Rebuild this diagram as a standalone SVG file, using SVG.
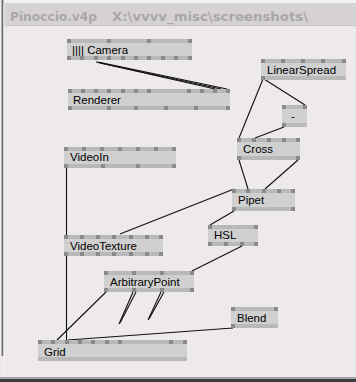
<svg xmlns="http://www.w3.org/2000/svg" width="356" height="382" viewBox="0 0 356 382">
<defs>
<style>
.bg{fill:#ede9ec}
.body{fill:#d0d0d0}
.strip{fill:#b9b9b9}
.pin{fill:#8a8a8a}
.lbl{font-family:"Liberation Sans",Arial,sans-serif;font-size:11.5px;fill:#000}
.title{font-family:"DejaVu Sans",Verdana,sans-serif;font-weight:bold;font-size:12px;fill:#a8a8a8}
.wire{stroke:#111;stroke-width:1.1;fill:none}
</style>
</defs>
<rect class="bg" x="0" y="0" width="356" height="382"/>
<rect x="0" y="0" width="356" height="3" fill="#f2f2f2"/>
<rect x="0" y="0" width="2" height="356" fill="#f2f2f2"/>
<rect x="1.5" y="0" width="2" height="356" fill="#6e6e6e"/>
<rect x="3.5" y="3" width="1" height="374" fill="#f6f6f6"/>
<rect x="4.5" y="3" width="352" height="22" fill="#d6d2d4"/>
<rect x="4.5" y="25" width="352" height="1" fill="#c8c4c6"/>
<text class="title" x="10" y="21" textLength="87" lengthAdjust="spacingAndGlyphs">Pinoccio.v4p</text>
<text class="title" x="112" y="21" textLength="196" lengthAdjust="spacingAndGlyphs">X:\vvvv_misc\screenshots\</text>
<rect x="0" y="377" width="356" height="2" fill="#a4a4a4"/>
<rect x="0" y="379" width="356" height="3" fill="#3c3c3c"/>

<g id="connectors">
<line class="wire" x1="96" y1="62" x2="215" y2="89"/>
<line class="wire" x1="98" y1="62" x2="227" y2="89"/>
<line class="wire" x1="100" y1="63" x2="221" y2="89"/>
<line class="wire" x1="263" y1="79" x2="239" y2="138"/>
<line class="wire" x1="264" y1="79" x2="305" y2="105"/>
<line class="wire" x1="284" y1="127" x2="255" y2="138"/>
<line class="wire" x1="239" y1="160" x2="248" y2="189"/>
<line class="wire" x1="298" y1="160" x2="265" y2="189"/>
<line class="wire" x1="234" y1="189" x2="120" y2="234"/>
<line class="wire" x1="234" y1="211" x2="210" y2="225"/>
<line class="wire" x1="242" y1="246" x2="192" y2="271"/>
<line class="wire" x1="66.5" y1="167" x2="66.5" y2="235"/>
<line class="wire" x1="66.5" y1="256" x2="66.5" y2="340"/>
<line class="wire" x1="106" y1="292" x2="57" y2="340"/>
<line class="wire" x1="133" y1="292" x2="119" y2="324"/>
<line class="wire" x1="136" y1="292" x2="120" y2="323"/>
<line class="wire" x1="161" y1="292" x2="148" y2="320"/>
<line class="wire" x1="164" y1="292" x2="149" y2="319"/>
<line class="wire" x1="233" y1="328" x2="68" y2="340"/>
</g>

<g id="camera">
<rect class="body" x="67" y="39" width="125" height="21"/>
<rect class="strip" x="67" y="39" width="125" height="4"/>
<rect class="strip" x="67" y="56" width="125" height="4"/>
<g class="pin"><rect x="67" y="39" width="4" height="4"/><rect x="107" y="39" width="4" height="4"/><rect x="147" y="39" width="4" height="4"/><rect x="188" y="39" width="4" height="4"/>
<rect x="67" y="56" width="4" height="4"/><rect x="80" y="56" width="4" height="4"/><rect x="94" y="56" width="4" height="4"/><rect x="107" y="56" width="4" height="4"/><rect x="121" y="56" width="4" height="4"/><rect x="134" y="56" width="4" height="4"/><rect x="147" y="56" width="4" height="4"/><rect x="161" y="56" width="4" height="4"/><rect x="174" y="56" width="4" height="4"/><rect x="188" y="56" width="4" height="4"/></g>
<text class="lbl" x="72" y="54">|||| Camera</text>
</g>

<g id="renderer">
<rect class="body" x="68" y="89" width="162" height="21"/>
<rect class="strip" x="68" y="89" width="162" height="4"/>
<rect class="strip" x="68" y="106" width="162" height="4"/>
<g class="pin"><rect x="68" y="89" width="4" height="4"/><rect x="81" y="89" width="4" height="4"/><rect x="94" y="89" width="4" height="4"/><rect x="107" y="89" width="4" height="4"/><rect x="121" y="89" width="4" height="4"/><rect x="134" y="89" width="4" height="4"/><rect x="147" y="89" width="4" height="4"/><rect x="187" y="89" width="4" height="4"/><rect x="200" y="89" width="4" height="4"/><rect x="213" y="89" width="4" height="4"/><rect x="226" y="89" width="4" height="4"/>
<rect x="68" y="106" width="4" height="4"/><rect x="107" y="106" width="4" height="4"/><rect x="134" y="106" width="4" height="4"/><rect x="164" y="106" width="4" height="4"/><rect x="194" y="106" width="4" height="4"/><rect x="226" y="106" width="4" height="4"/></g>
<text class="lbl" x="73" y="104">Renderer</text>
</g>

<g id="linearspread">
<rect class="body" x="261" y="59" width="85" height="21"/>
<rect class="strip" x="261" y="59" width="85" height="4"/>
<rect class="strip" x="261" y="76" width="85" height="4"/>
<g class="pin"><rect x="261" y="59" width="4" height="4"/><rect x="281" y="59" width="4" height="4"/><rect x="301" y="59" width="4" height="4"/><rect x="321" y="59" width="4" height="4"/><rect x="342" y="59" width="4" height="4"/>
<rect x="261" y="76" width="4" height="4"/></g>
<text class="lbl" x="267" y="74">LinearSpread</text>
</g>

<g id="minus">
<rect class="body" x="282" y="105" width="25" height="22"/>
<rect class="strip" x="282" y="105" width="25" height="4"/>
<rect class="strip" x="282" y="123" width="25" height="4"/>
<g class="pin"><rect x="282" y="105" width="4" height="4"/><rect x="303" y="105" width="4" height="4"/>
<rect x="282" y="123" width="4" height="4"/></g>
<text class="lbl" x="291" y="120">-</text>
</g>

<g id="cross">
<rect class="body" x="237" y="138" width="63" height="22"/>
<rect class="strip" x="237" y="138" width="63" height="4"/>
<rect class="strip" x="237" y="156" width="63" height="4"/>
<g class="pin"><rect x="237" y="138" width="4" height="4"/><rect x="252" y="138" width="4" height="4"/><rect x="267" y="138" width="4" height="4"/><rect x="282" y="138" width="4" height="4"/><rect x="296" y="138" width="4" height="4"/>
<rect x="237" y="156" width="4" height="4"/><rect x="296" y="156" width="4" height="4"/></g>
<text class="lbl" x="243" y="153">Cross</text>
</g>

<g id="pipet">
<rect class="body" x="232" y="189" width="63" height="22"/>
<rect class="strip" x="232" y="189" width="63" height="4"/>
<rect class="strip" x="232" y="207" width="63" height="4"/>
<g class="pin"><rect x="232" y="189" width="4" height="4"/><rect x="246" y="189" width="4" height="4"/><rect x="262" y="189" width="4" height="4"/><rect x="277" y="189" width="4" height="4"/><rect x="291" y="189" width="4" height="4"/>
<rect x="232" y="207" width="4" height="4"/><rect x="291" y="207" width="4" height="4"/></g>
<text class="lbl" x="238" y="204">Pipet</text>
</g>

<g id="hsl">
<rect class="body" x="208" y="225" width="50" height="21"/>
<rect class="strip" x="208" y="225" width="50" height="4"/>
<rect class="strip" x="208" y="242" width="50" height="4"/>
<g class="pin"><rect x="208" y="225" width="4" height="4"/><rect x="254" y="225" width="4" height="4"/>
<rect x="208" y="242" width="4" height="4"/><rect x="224" y="242" width="4" height="4"/><rect x="240" y="242" width="4" height="4"/><rect x="254" y="242" width="4" height="4"/></g>
<text class="lbl" x="214" y="239">HSL</text>
</g>

<g id="videoin">
<rect class="body" x="64" y="147" width="112" height="21"/>
<rect class="strip" x="64" y="147" width="112" height="4"/>
<rect class="strip" x="64" y="164" width="112" height="4"/>
<g class="pin"><rect x="64" y="147" width="4" height="4"/><rect x="82" y="147" width="4" height="4"/><rect x="100" y="147" width="4" height="4"/><rect x="118" y="147" width="4" height="4"/><rect x="136" y="147" width="4" height="4"/><rect x="154" y="147" width="4" height="4"/><rect x="172" y="147" width="4" height="4"/>
<rect x="64" y="164" width="4" height="4"/><rect x="101" y="164" width="4" height="4"/><rect x="136" y="164" width="4" height="4"/><rect x="172" y="164" width="4" height="4"/></g>
<text class="lbl" x="70" y="161">VideoIn</text>
</g>

<g id="videotexture">
<rect class="body" x="64" y="235" width="99" height="21"/>
<rect class="strip" x="64" y="235" width="99" height="4"/>
<rect class="strip" x="64" y="252" width="99" height="4"/>
<g class="pin"><rect x="64" y="235" width="4" height="4"/><rect x="80" y="235" width="4" height="4"/><rect x="96" y="235" width="4" height="4"/><rect x="112" y="235" width="4" height="4"/><rect x="129" y="235" width="4" height="4"/><rect x="145" y="235" width="4" height="4"/><rect x="159" y="235" width="4" height="4"/>
<rect x="64" y="252" width="4" height="4"/><rect x="80" y="252" width="4" height="4"/><rect x="96" y="252" width="4" height="4"/><rect x="112" y="252" width="4" height="4"/><rect x="129" y="252" width="4" height="4"/><rect x="145" y="252" width="4" height="4"/><rect x="159" y="252" width="4" height="4"/></g>
<text class="lbl" x="70" y="250">VideoTexture</text>
</g>

<g id="arbitrarypoint">
<rect class="body" x="104" y="271" width="90" height="21"/>
<rect class="strip" x="104" y="271" width="90" height="4"/>
<rect class="strip" x="104" y="288" width="90" height="4"/>
<g class="pin"><rect x="104" y="271" width="4" height="4"/><rect x="132" y="271" width="4" height="4"/><rect x="160" y="271" width="4" height="4"/><rect x="190" y="271" width="4" height="4"/>
<rect x="104" y="288" width="4" height="4"/><rect x="132" y="288" width="4" height="4"/><rect x="160" y="288" width="4" height="4"/><rect x="190" y="288" width="4" height="4"/></g>
<text class="lbl" x="110" y="286">ArbitraryPoint</text>
</g>

<g id="blend">
<rect class="body" x="231" y="307" width="47" height="21"/>
<rect class="strip" x="231" y="307" width="47" height="4"/>
<rect class="strip" x="231" y="324" width="47" height="4"/>
<g class="pin"><rect x="231" y="307" width="4" height="4"/><rect x="274" y="307" width="4" height="4"/>
<rect x="231" y="324" width="4" height="4"/></g>
<text class="lbl" x="237" y="322">Blend</text>
</g>

<g id="grid">
<rect class="body" x="38" y="340" width="149" height="21"/>
<rect class="strip" x="38" y="340" width="149" height="4"/>
<rect class="strip" x="38" y="357" width="149" height="4"/>
<g class="pin"><rect x="38" y="340" width="4" height="4"/><rect x="51" y="340" width="4" height="4"/><rect x="65" y="340" width="4" height="4"/><rect x="78" y="340" width="4" height="4"/><rect x="91" y="340" width="4" height="4"/><rect x="105" y="340" width="4" height="4"/><rect x="118" y="340" width="4" height="4"/><rect x="169" y="340" width="4" height="4"/><rect x="183" y="340" width="4" height="4"/></g>
<text class="lbl" x="44" y="356">Grid</text>
</g>
</svg>
